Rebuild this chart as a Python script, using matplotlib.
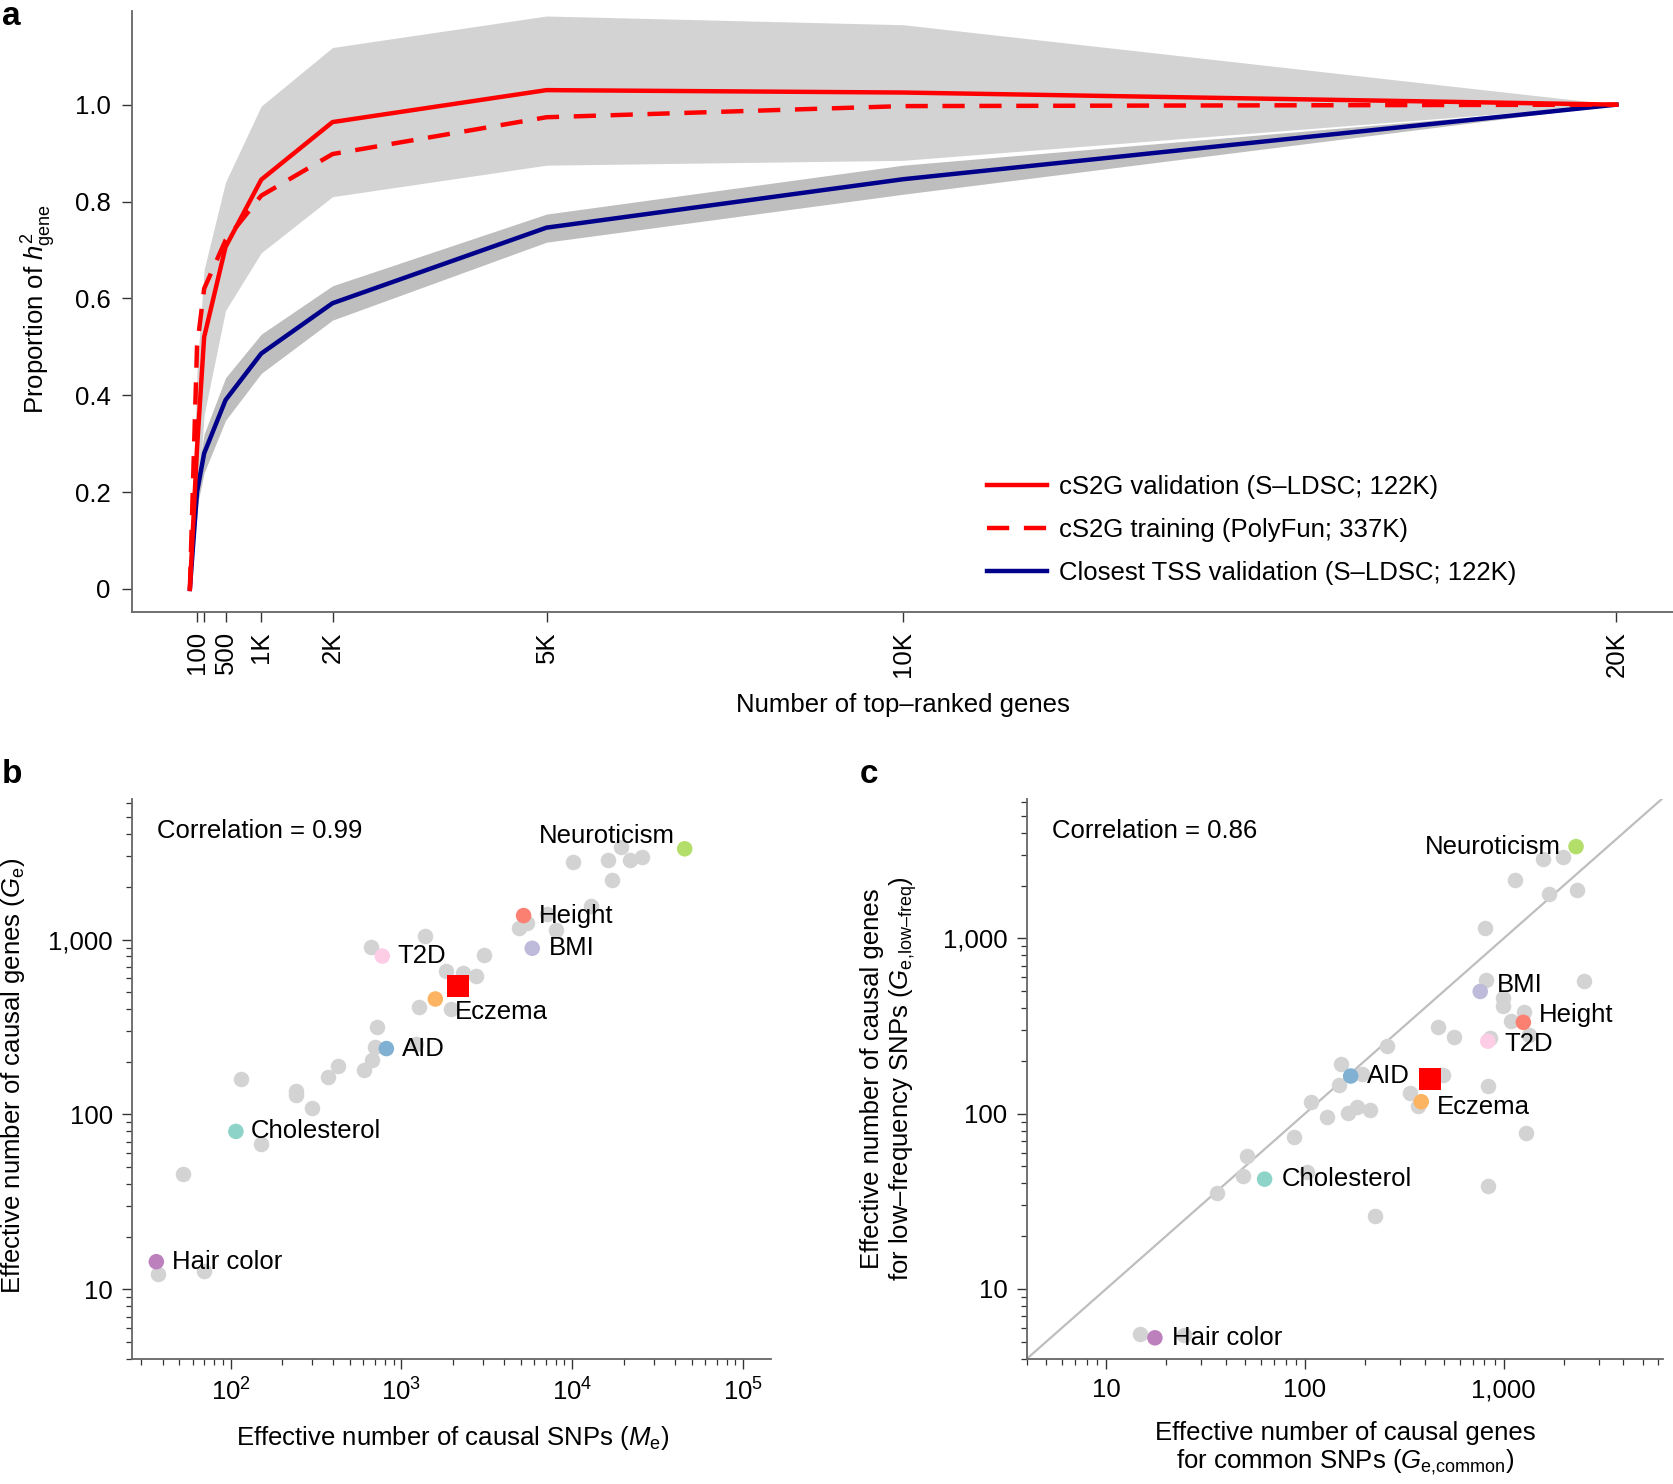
import numpy as np
import matplotlib
matplotlib.use("Agg")
import matplotlib.pyplot as plt
from matplotlib.ticker import FixedLocator, LogLocator, NullFormatter

plt.rcParams['font.family'] = ['Liberation Sans', 'DejaVu Sans']
plt.rcParams['mathtext.fontset'] = 'custom'
plt.rcParams['mathtext.rm'] = 'Liberation Sans'
plt.rcParams['mathtext.it'] = 'Liberation Sans:italic'
plt.rcParams['mathtext.bf'] = 'Liberation Sans:bold'
plt.rcParams['font.size'] = 18.5

# ---- panel a: proportion of h2_gene vs number of top-ranked genes
n_genes = [0, 100, 200, 500, 1000, 2000, 5000, 10000, 20000]
cs2g_val = [0, 0.29, 0.52, 0.706, 0.845, 0.964, 1.030, 1.025, 1.0]
cs2g_val_lo = [0, 0.15, 0.36, 0.575, 0.694, 0.81, 0.875, 0.885, 1.0]
cs2g_val_hi = [0, 0.45, 0.66, 0.84, 0.997, 1.118, 1.183, 1.165, 1.0]
cs2g_train = [0, 0.50, 0.62, 0.72, 0.812, 0.898, 0.974, 0.997, 1.0]
tss_val = [0, 0.20, 0.28, 0.39, 0.486, 0.59, 0.746, 0.846, 1.0]
tss_val_lo = [0, 0.17, 0.24, 0.348, 0.445, 0.555, 0.716, 0.815, 1.0]
tss_val_hi = [0, 0.23, 0.32, 0.436, 0.526, 0.626, 0.774, 0.875, 1.0]

xtick_genes = [100, 200, 500, 1000, 2000, 5000, 10000, 20000]
xtick_labels = ['100', '', '500', '1K', '2K', '5K', '10K', '20K']

# ---- highlighted traits (shared by b and c)
traits = ['Neuroticism', 'Height', 'BMI', 'T2D', 'Eczema', 'AID', 'Cholesterol', 'Hair color']
trait_colors = ['#B3DE69', '#FB8072', '#BEBADA', '#FCCDE5', '#FDB462', '#80B1D3', '#8DD3C7', '#BC80BD']

# panel b: M_e vs G_e
b_me = [45500, 5190, 5830, 773, 1580, 817, 107.5, 36.8]
b_ge = [3300, 1370, 891, 804, 457, 238, 80, 14.4]
b_mean = (2150, 539)
b_gray_me = [37.5, 69.8, 53, 150, 115, 242, 242, 301, 373, 428, 603, 674, 702, 721,
             1217, 1268, 1956, 1813, 2305, 2736, 3056, 1366, 664, 4880, 5440, 7116,
             8010, 12790, 10100, 16230, 19410, 21660, 25690, 17160]
b_gray_ge = [12.3, 12.7, 45.8, 67.9, 160, 137, 129, 109, 163, 190, 180, 206, 244, 316,
             253, 413, 401, 658, 645, 619, 819, 1050, 902, 1170, 1236, 1395,
             1136, 1556, 2786, 2853, 3380, 2853, 2977, 2198]

# panel c: G_e common vs G_e low-freq
c_common = [2312, 1256, 762, 832, 385, 170, 62.7, 17.6]
c_lowfreq = [3340, 332, 498, 259, 117, 164, 42.3, 5.26]
c_mean = (425, 157)
c_gray_common = [14.8, 24.7, 36.2, 49.0, 51.4, 103, 87.9, 107, 129, 165, 183, 213, 148,
                 152, 194, 260, 226, 336, 371, 493, 466, 564, 832, 832, 1295, 801, 811,
                 994, 994, 1089, 1264, 1344, 851, 2547, 1146, 1698, 2339, 1578, 1991]
c_gray_lowfreq = [5.52, 5.46, 35.1, 44.2, 57.3, 46.3, 73.5, 117, 95.9, 101, 109, 105, 145,
                  192, 169, 244, 26.1, 132, 110, 167, 311, 275, 144, 38.6, 78.0, 1142, 580,
                  455, 410, 336, 382, 280, 272, 569, 2147, 1800, 1901, 2840, 2905]

# label offsets in points (dx, dy, ha) for each trait
b_offsets = [(-7, 9, 'right'), (11, 0, 'left'), (12, 0, 'left'), (11, 0, 'left'),
             (14, -9, 'left'), (11, 0, 'left'), (11, 0, 'left'), (11, 0, 'left')]
c_offsets = [(-11, 0, 'right'), (11, 5, 'left'), (12, 5, 'left'), (12, -2, 'left'),
             (11, -4, 'left'), (12, 0, 'left'), (12, 0, 'left'), (12, 0, 'left')]

SPINE = '#666666'
GRAY_PT = '#D3D3D3'

fig = plt.figure(figsize=(16.74, 14.84), dpi=100)


def style_axes(ax):
    for side in ['top', 'right']:
        ax.spines[side].set_visible(False)
    for side in ['left', 'bottom']:
        ax.spines[side].set_color(SPINE)
        ax.spines[side].set_linewidth(1.3)
    ax.tick_params(which='major', length=7.5, width=1.0, color='#333333', pad=6.5)
    ax.tick_params(which='minor', length=4, width=0.9, color='#333333')


# ---------------- panel a
ax_a = fig.add_axes([0.079, 0.5878, 0.921, 0.405])
ax_a.fill_between(n_genes, cs2g_val_lo, cs2g_val_hi, color='#D3D3D3', lw=0)
ax_a.fill_between(n_genes, tss_val_lo, tss_val_hi, color='#BEBEBE', lw=0)
ax_a.plot(n_genes, tss_val, color='#00008B', lw=3.2,
          label='Closest TSS validation (S\u2013LDSC; 122K)')
ax_a.plot(n_genes, cs2g_train, color='#FF0000', lw=3.2, dashes=(5, 3.3),
          label='cS2G training (PolyFun; 337K)')
ax_a.plot(n_genes, cs2g_val, color='#FF0000', lw=3.2,
          label='cS2G validation (S\u2013LDSC; 122K)')
ax_a.set_xlim(-808, 20807)
ax_a.set_ylim(-0.047, 1.194)
ax_a.set_xticks(xtick_genes)
ax_a.set_xticklabels(xtick_labels, rotation=90)
ax_a.set_yticks([0, 0.2, 0.4, 0.6, 0.8, 1.0])
ax_a.set_yticklabels(['0', '0.2', '0.4', '0.6', '0.8', '1.0'])
style_axes(ax_a)
ax_a.tick_params(axis='y', pad=8)
ax_a.set_xlabel('Number of top\u2013ranked genes')
ax_a.xaxis.set_label_coords(0.5, -0.1546)
ax_a.xaxis.label.set_va('center')
ax_a.set_ylabel(r'Proportion of $h^2_{\mathrm{gene}}$')
ax_a.yaxis.set_label_coords(-0.061, 0.503)
ax_a.yaxis.label.set_va('center')
handles, labels = ax_a.get_legend_handles_labels()
ax_a.legend(handles[::-1], labels[::-1], loc='upper left', bbox_to_anchor=(0.5547, 0.2275),
            frameon=False, borderpad=0, borderaxespad=0, handlelength=2.3,
            handletextpad=0.5, labelspacing=0.74)


def scatter_panel(ax, gx, gy, tx, ty, mean, offsets):
    ax.set_xscale('log')
    ax.set_yscale('log')
    ax.scatter(gx, gy, s=125, color=GRAY_PT, lw=0, zorder=2)
    ax.scatter(tx, ty, s=125, color=trait_colors, lw=0, zorder=3)
    ax.scatter([mean[0]], [mean[1]], s=240, marker='s', color='#FF0000', lw=0, zorder=4)
    for name, x, y, (dx, dy, ha) in zip(traits, tx, ty, offsets):
        ax.annotate(name, (x, y), xytext=(dx, dy), textcoords='offset points',
                    ha=ha, va='center', zorder=5)
    ax.yaxis.set_major_locator(FixedLocator([10, 100, 1000]))
    ax.set_yticklabels(['10', '100', '1,000'])
    ax.yaxis.set_minor_locator(LogLocator(base=10, subs=np.arange(2, 10)))
    ax.yaxis.set_minor_formatter(NullFormatter())
    ax.xaxis.set_minor_locator(LogLocator(base=10, subs=np.arange(2, 10)))
    ax.xaxis.set_minor_formatter(NullFormatter())
    style_axes(ax)


# ---------------- panel b
ax_b = fig.add_axes([0.079, 0.0842, 0.3814, 0.3776])
scatter_panel(ax_b, b_gray_me, b_gray_ge, b_me, b_ge, b_mean, b_offsets)
ax_b.set_xlim(26.6, 145000)
ax_b.set_ylim(4.0, 6380)
ax_b.xaxis.set_major_locator(FixedLocator([1e2, 1e3, 1e4, 1e5]))
ax_b.set_xticklabels([r'$10^{2}$', r'$10^{3}$', r'$10^{4}$', r'$10^{5}$'])
ax_b.text(0.0385, 0.943, 'Correlation = 0.99', transform=ax_b.transAxes, va='center')
ax_b.set_xlabel(r'Effective number of causal SNPs ($M_{\mathrm{e}}$)')
ax_b.xaxis.set_label_coords(0.5016, -0.141)
ax_b.xaxis.label.set_va('center')
ax_b.set_ylabel(r'Effective number of causal genes ($G_{\mathrm{e}}$)')
ax_b.yaxis.set_label_coords(-0.187, 0.505)
ax_b.yaxis.label.set_va('center')

# ---------------- panel c
ax_c = fig.add_axes([0.6135, 0.0842, 0.380, 0.3776])
ax_c.axline((10, 10), (100, 100), color='#BEBEBE', lw=1.6, zorder=1)
scatter_panel(ax_c, c_gray_common, c_gray_lowfreq, c_common, c_lowfreq, c_mean, c_offsets)
ax_c.set_xlim(4.0, 6340)
ax_c.set_ylim(3.98, 6270)
ax_c.xaxis.set_major_locator(FixedLocator([10, 100, 1000]))
ax_c.set_xticklabels(['10', '100', '1,000'])
ax_c.text(0.0387, 0.943, 'Correlation = 0.86', transform=ax_c.transAxes, va='center')
ax_c.set_xlabel('Effective number of causal genes\n'
                r'for common SNPs ($G_{\mathrm{e{,}common}}$)', linespacing=1.15)
ax_c.xaxis.set_label_coords(0.4998, -0.1606)
ax_c.xaxis.label.set_va('center')
ax_c.set_ylabel('Effective number of causal genes\n'
                'for low\u2013frequency SNPs ($G_{\\mathrm{e{,}low\u2013freq}}$)', linespacing=1.15)
ax_c.yaxis.set_label_coords(-0.216, 0.50)
ax_c.yaxis.label.set_va('center')

# panel letters
fig.text(0.001, 0.9995, 'a', fontsize=24, fontweight='bold', va='top', ha='left')
fig.text(0.001, 1 - 759 / 1484, 'b', fontsize=24, fontweight='bold', va='top', ha='left')
fig.text(860 / 1674, 1 - 759 / 1484, 'c', fontsize=24, fontweight='bold', va='top', ha='left')

fig.savefig('out.png', dpi=100)
